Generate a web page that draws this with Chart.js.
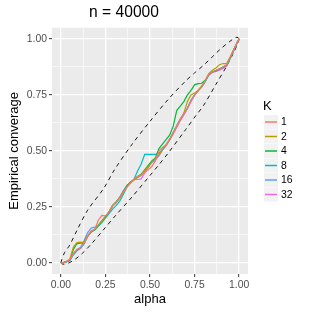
<!DOCTYPE html>
<html>
<head>
<meta charset="utf-8">
<script src="https://cdn.jsdelivr.net/npm/chart.js@4.4.1/dist/chart.umd.min.js"></script>
<style>
  html, body { margin: 0; padding: 0; background: #ffffff; }
</style>
</head>
<body>
<canvas id="chart" width="315" height="315"></canvas>
<script>
// alpha values where the coverage curves were read
const alphaGrid = [0, 0.01, 0.03, 0.05, 0.07, 0.09, 0.11, 0.13, 0.15, 0.17, 0.19, 0.21, 0.23, 0.25, 0.27, 0.29,
    0.31, 0.33, 0.35, 0.37, 0.39, 0.41, 0.43, 0.45, 0.47, 0.49, 0.51, 0.53, 0.55, 0.57, 0.59, 0.61, 0.63, 0.65,
    0.67, 0.69, 0.71, 0.73, 0.75, 0.77, 0.79, 0.81, 0.83, 0.85, 0.87, 0.89, 0.91, 0.93, 0.95, 0.97, 0.99, 1];

// empirical coverage per K
const cov1 = [0, 0, .006, .014, .042, .06, .066, .087, .118, .142, .15, .19, .212, .21, .226, .254, .27, .292, .316, .338,
    .356, .372, .385, .392, .405, .415, .43, .455, .5, .515, .528, .552, .578, .61, .64, .666, .69, .724, .748, .77, .786,
    .812, .842, .852, .86, .866, .874, .884, .918, .952, .986, 1];
const cov2 = [0, 0, .006, .016, .07, .09, .092, .09, .122, .14, .15, .166, .186, .206, .228, .256, .272, .288, .314, .338,
    .356, .37, .382, .392, .412, .43, .45, .465, .482, .506, .525, .552, .582, .612, .642, .668, .72, .75, .758, .77, .79,
    .812, .845, .86, .87, .885, .89, .89, .92, .952, .986, 1];
const cov4 = [0, 0, .005, .012, .06, .085, .088, .09, .12, .14, .148, .165, .186, .206, .226, .256, .272, .292, .318, .345,
    .36, .372, .385, .395, .415, .435, .455, .468, .51, .53, .55, .57, .61, .68, .70, .72, .75, .77, .795, .80, .802,
    .815, .842, .852, .858, .866, .874, .884, .916, .95, .985, 1];
const cov8 = [0, 0, .004, .01, .036, .055, .064, .084, .118, .138, .146, .164, .18, .2, .22, .24, .255, .275, .305, .338,
    .356, .372, .41, .44, .484, .484, .484, .484, .49, .506, .526, .55, .582, .612, .642, .666, .69, .726, .75, .768, .786,
    .81, .84, .852, .858, .866, .874, .882, .915, .95, .985, 1];
const cov16 = [0, 0, .005, .012, .04, .058, .068, .1, .135, .155, .16, .168, .186, .206, .226, .256, .27, .29, .322, .342,
    .356, .372, .38, .39, .41, .43, .45, .462, .48, .505, .525, .55, .58, .61, .64, .665, .69, .725, .75, .77, .786,
    .81, .84, .852, .858, .866, .872, .882, .915, .95, .985, 1];
const cov32 = [0, 0, .004, .01, .038, .055, .068, .088, .118, .138, .15, .168, .188, .207, .228, .252, .268, .292, .318, .342,
    .36, .372, .372, .375, .40, .425, .448, .46, .478, .503, .523, .548, .575, .605, .635, .66, .688, .72, .748, .768, .787,
    .812, .838, .85, .855, .86, .868, .878, .912, .948, .984, 1];

// dashed envelope
const upperAlpha = [0, 0.005, 0.02, 0.05, 0.09, 0.15, 0.24, 0.3, 0.4, 0.5, 0.6, 0.7, 0.75, 0.8, 0.85, 0.9, 0.95, 0.98, 0.995, 1];
const upperBand = [0, 0.015, 0.045, 0.08, 0.145, 0.235, 0.332, 0.415, 0.53, 0.632, 0.728, 0.812, 0.848, 0.882, 0.92, 0.958, 0.99, 1.006, 1.006, 1];
const lowerAlpha = [0, 0.01, 0.04, 0.08, 0.12, 0.175, 0.25, 0.3, 0.4, 0.5, 0.55, 0.6, 0.7, 0.76, 0.8, 0.87, 0.93, 0.97, 0.995, 1];
const lowerBand = [0, -0.006, -0.002, 0.016, 0.042, 0.088, 0.158, 0.205, 0.295, 0.39, 0.438, 0.488, 0.595, 0.66, 0.702, 0.797, 0.878, 0.94, 0.985, 1];

const kLabels = ['1', '2', '4', '8', '16', '32'];
const kColors = ['#F8766D', '#B79F00', '#00BA38', '#00BFC4', '#619CFF', '#F564E3'];
const majorTicks = [0, 0.25, 0.5, 0.75, 1];
const minorTicks = [0.125, 0.375, 0.625, 0.875];

const FONT = 'Liberation Sans, Arial, sans-serif';

function isMajor(v) {
    return majorTicks.some(m => Math.abs(m - v) < 1e-9);
}

function toPoints(xs, ys) {
    return xs.map((x, i) => ({ x: x, y: ys[i] }));
}

const covSeries = [cov1, cov2, cov4, cov8, cov16, cov32];

const datasets = covSeries.map((s, i) => ({
    label: kLabels[i],
    data: toPoints(alphaGrid, s),
    borderColor: kColors[i],
    borderWidth: 1.2,
    pointRadius: 0,
    tension: 0,
    fill: false
}));

datasets.push({
    label: 'upper',
    data: toPoints(upperAlpha, upperBand),
    borderColor: '#000000',
    borderWidth: 0.9,
    borderDash: [4, 4],
    pointRadius: 0,
    tension: 0.3,
    fill: false
});
datasets.push({
    label: 'lower',
    data: toPoints(lowerAlpha, lowerBand),
    borderColor: '#000000',
    borderWidth: 0.9,
    borderDash: [4, 4],
    pointRadius: 0,
    tension: 0.3,
    fill: false
});

// grey panel behind the grid
const panelBg = {
    id: 'panelBg',
    beforeDraw(chart) {
        const a = chart.chartArea;
        const ctx = chart.ctx;
        ctx.save();
        ctx.fillStyle = '#EBEBEB';
        ctx.fillRect(a.left, a.top, a.right - a.left, a.bottom - a.top);
        ctx.restore();
    }
};

// ggplot style legend on the right
const kLegend = {
    id: 'kLegend',
    afterDraw(chart) {
        const ctx = chart.ctx;
        ctx.save();
        ctx.fillStyle = '#000000';
        ctx.font = '13px ' + FONT;
        ctx.textBaseline = 'middle';
        ctx.textAlign = 'left';
        ctx.fillText('K', 263, 106);
        kLabels.forEach((lab, i) => {
            const yc = 122 + i * 14.5;
            ctx.fillStyle = '#F2F2F2';
            ctx.fillRect(264, yc - 7, 14, 14);
            ctx.strokeStyle = kColors[i];
            ctx.lineWidth = 1.5;
            ctx.beginPath();
            ctx.moveTo(265, yc);
            ctx.lineTo(277, yc);
            ctx.stroke();
            ctx.fillStyle = '#000000';
            ctx.font = '10.4px ' + FONT;
            ctx.fillText(lab, 281, yc + 0.5);
        });
        ctx.restore();
    }
};

function axis(titleText, isX) {
    return {
        type: 'linear',
        min: -0.05,
        max: 1.05,
        afterBuildTicks: s => {
            s.ticks = majorTicks.concat(minorTicks).sort((a, b) => a - b).map(v => ({ value: v }));
        },
        afterFit: s => {
            if (isX) s.height = 41; else s.width = 52;
        },
        border: { display: false },
        grid: {
            color: '#FFFFFF',
            lineWidth: c => isMajor(c.tick.value) ? 1.3 : 0.6,
            drawTicks: true,
            tickLength: 3,
            tickWidth: 1,
            tickColor: c => isMajor(c.tick.value) ? '#333333' : 'rgba(0,0,0,0)'
        },
        ticks: {
            autoSkip: false,
            maxRotation: 0,
            padding: 2,
            color: '#4D4D4D',
            font: { family: FONT, size: 10.4 },
            callback: v => isMajor(v) ? v.toFixed(2) : ''
        },
        title: {
            display: true,
            text: titleText,
            color: '#000000',
            font: { family: FONT, size: 13 },
            padding: isX ? { top: 0, bottom: 8 } : { top: 7, bottom: 0 }
        }
    };
}

new Chart(document.getElementById('chart').getContext('2d'), {
    type: 'line',
    data: { datasets: datasets },
    options: {
        responsive: false,
        animation: false,
        layout: { padding: { left: 0, right: 67, top: 0, bottom: 0 } },
        plugins: {
            legend: { display: false },
            tooltip: { enabled: false },
            title: {
                display: true,
                text: 'n = 40000',
                color: '#000000',
                font: { family: FONT, size: 15.6, weight: 'normal' },
                padding: { top: 3, bottom: 6 }
            }
        },
        scales: {
            x: axis('alpha', true),
            y: axis('Empirical converage', false)
        }
    },
    plugins: [panelBg, kLegend]
});
</script>
</body>
</html>
